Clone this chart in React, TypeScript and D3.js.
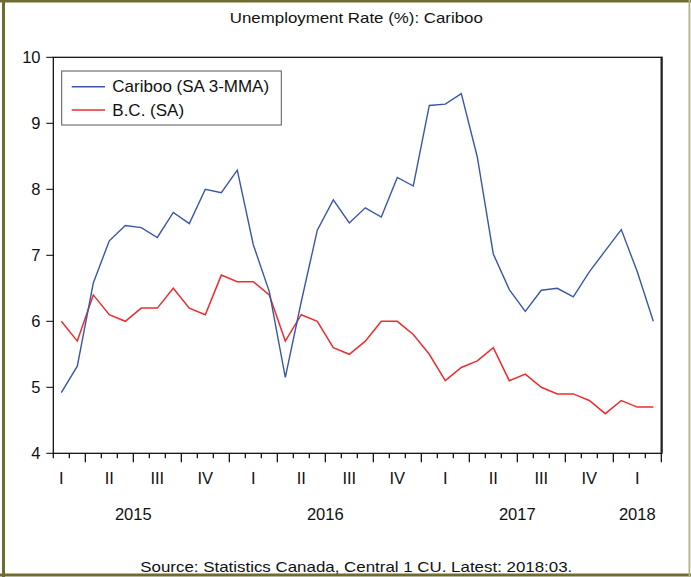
import React from "react";
import * as d3 from "d3";

const months = [
  "2015-02","2015-03","2015-04","2015-05","2015-06","2015-07","2015-08","2015-09","2015-10","2015-11","2015-12",
  "2016-01","2016-02","2016-03","2016-04","2016-05","2016-06","2016-07","2016-08","2016-09","2016-10","2016-11","2016-12",
  "2017-01","2017-02","2017-03","2017-04","2017-05","2017-06","2017-07","2017-08","2017-09","2017-10","2017-11","2017-12",
  "2018-01","2018-02","2018-03",
];

const cariboo = [
  4.92, 5.32, 6.58, 7.22, 7.45, 7.42, 7.27, 7.65, 7.48, 8.0, 7.95,
  8.29, 7.16, 6.45, 5.15, 6.3, 7.38, 7.84, 7.49, 7.72, 7.58, 8.18, 8.05,
  9.27, 9.29, 9.45, 8.49, 7.02, 6.48, 6.15, 6.47, 6.5, 6.37, 6.75, 7.07, 7.39,
  6.75, 6.0,
];

const bc = [
  6.0, 5.7, 6.4, 6.1, 6.0, 6.2, 6.2, 6.5, 6.2, 6.1, 6.7,
  6.6, 6.6, 6.4, 5.7, 6.1, 6.0, 5.6, 5.5, 5.7, 6.0, 6.0, 5.8,
  5.5, 5.1, 5.3, 5.4, 5.6, 5.1, 5.2, 5.0, 4.9, 4.9, 4.8, 4.6, 4.8,
  4.7, 4.7,
];

const yTicks = [4, 5, 6, 7, 8, 9, 10];
const quarterNames = ["I", "II", "III", "IV"];
const seriesNames = ["Cariboo (SA 3-MMA)", "B.C. (SA)"];
const seriesColors = ["#3a56aa", "#ee2c2c"];
const titleText = "Unemployment Rate (%): Cariboo";
const sourceText = "Source: Statistics Canada, Central 1 CU. Latest: 2018:03.";

const W = 691;
const H = 577;
const FONT = "'Liberation Sans', Arial, sans-serif";

export default function App() {
  const left = 53.3, right = 661.3, top = 57.3, bottom = 453.3;
  const n = months.length;
  const x = d3.scaleLinear().domain([0, n]).range([left, right]);
  const y = d3.scaleLinear().domain([4, 10]).range([bottom, top]);
  const cx = (i: number) => x(i + 0.5);

  const line = d3
    .line<number>()
    .x((_, i) => cx(i))
    .y((v) => y(v));

  const monthNum = months.map((m) => +m.split("-")[1]);
  const yearNum = months.map((m) => +m.split("-")[0]);

  // quarter labels at the middle month of each quarter
  const quarterLabels: { x: number; t: string }[] = [];
  months.forEach((_, i) => {
    const mm = monthNum[i];
    if (mm % 3 === 2) {
      quarterLabels.push({ x: cx(i), t: quarterNames[(mm - 2) / 3] });
    }
  });

  // major ticks at quarter starts (plus the end boundary)
  const boundaries = d3.range(0, n + 1);
  const isMajor = (b: number) => {
    if (b === n) return true;
    if (b === 0) return (monthNum[0] - 1) % 3 === 0;
    return (monthNum[b] - 1) % 3 === 0;
  };

  // year labels
  const years = Array.from(new Set(yearNum));
  const yearLabels = years.map((yr) => {
    const idx = months.map((_, i) => i).filter((i) => yearNum[i] === yr);
    const firstM = monthNum[idx[0]];
    const fullStart = idx[0] - (firstM - 1);
    const fullCenter = x(fullStart + 6);
    let px = fullCenter;
    if (fullCenter < left || fullCenter > right || fullStart + 12 > n + 6) {
      px = (x(idx[0]) + x(idx[idx.length - 1] + 1)) / 2;
    }
    return { x: px, t: String(yr) };
  });

  const plotCenter = (left + right) / 2;

  return (
    <svg
      width={W}
      height={H}
      style={{ position: "absolute", left: 0, top: 0, background: "#fff" }}
      fontFamily={FONT}
    >
      <rect x={0} y={0} width={W} height={H} fill="#fff" />
      {/* outer border */}
      <rect x={0} y={0} width={W} height={2.5} fill="#6e6c31" />
      <rect x={2} y={0} width={3} height={H} fill="#6e6c31" />
      <rect x={0} y={573.5} width={W} height={3} fill="#6e6c31" />
      <rect x={688.5} y={0} width={1.8} height={H} fill="#b3b383" />

      <text
        x={plotCenter - 1}
        y={22.7}
        textAnchor="middle"
        fontSize={15}
        fill="#111"
        textLength={253}
        lengthAdjust="spacingAndGlyphs"
      >
        {titleText}
      </text>

      {/* plot frame */}
      <rect x={left} y={top} width={right - left} height={bottom - top} fill="#fff" stroke="#000" strokeWidth={1.2} />
      <line x1={right + 0.5} x2={right + 0.5} y1={top - 0.5} y2={bottom + 0.5} stroke="#222" strokeWidth={2} />

      {/* y axis ticks */}
      {yTicks.map((t) => (
        <g key={t}>
          <line x1={left - 7} x2={left} y1={y(t)} y2={y(t)} stroke="#000" strokeWidth={1} />
          <text x={40.5} y={y(t)} dy="0.35em" textAnchor="end" fontSize={16.5} fill="#111">
            {t}
          </text>
        </g>
      ))}

      {/* x axis ticks */}
      {boundaries.map((b) => (
        <line
          key={b}
          x1={x(b)}
          x2={x(b)}
          y1={bottom}
          y2={bottom + (isMajor(b) ? 9 : 5)}
          stroke="#000"
          strokeWidth={1.2}
        />
      ))}
      {quarterLabels.map((q, i) => (
        <text key={i} x={q.x} y={484.3} textAnchor="middle" fontSize={16.5} fill="#111">
          {q.t}
        </text>
      ))}
      {yearLabels.map((yl) => (
        <text key={yl.t} x={yl.x} y={520} textAnchor="middle" fontSize={16.5} fill="#111">
          {yl.t}
        </text>
      ))}

      {/* series */}
      <path d={line(bc) || ""} fill="none" stroke={seriesColors[1]} strokeWidth={1.5} strokeLinejoin="miter" />
      <path d={line(cariboo) || ""} fill="none" stroke={seriesColors[0]} strokeWidth={1.4} strokeLinejoin="miter" />

      {/* legend */}
      <rect x={61.7} y={71} width={219.6} height={54} fill="#fff" stroke="#555" strokeWidth={1} />
      {seriesNames.map((s, i) => (
        <g key={s}>
          <line x1={71.7} x2={105} y1={86.7 + i * 23.3} y2={86.7 + i * 23.3} stroke={seriesColors[i]} strokeWidth={1.5} />
          <text x={112.3} y={92 + i * 24} fontSize={17} fill="#111">
            {s}
          </text>
        </g>
      ))}

      <text
        x={plotCenter - 1}
        y={571.5}
        textAnchor="middle"
        fontSize={15}
        fill="#111"
        textLength={432}
        lengthAdjust="spacingAndGlyphs"
      >
        {sourceText}
      </text>
    </svg>
  );
}
